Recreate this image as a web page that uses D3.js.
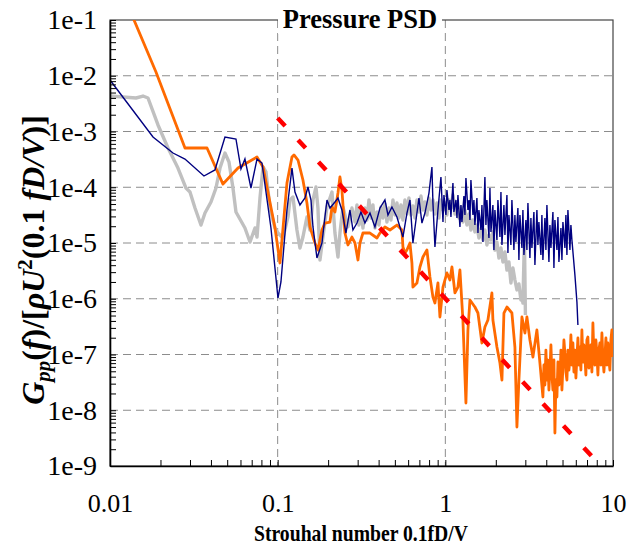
<!DOCTYPE html>
<html>
<head>
<meta charset="utf-8">
<script src="https://cdn.jsdelivr.net/npm/d3@7"></script>
<style>
  body { margin: 0; background: #fff; }
  svg text { font-family: "Liberation Serif", "Times New Roman", serif; }
</style>
</head>
<body>
<svg id="chart" width="627" height="546"></svg>
<script>
// axis ticks
const xTicks = [0.01, 0.1, 1, 10];
const xTickLabels = ['0.01', '0.1', '1', '10'];
const yTicks = [1e-1, 1e-2, 1e-3, 1e-4, 1e-5, 1e-6, 1e-7, 1e-8, 1e-9];
const yTickLabels = ['1e-1', '1e-2', '1e-3', '1e-4', '1e-5', '1e-6', '1e-7', '1e-8', '1e-9'];
const xGrid = [0.1, 1];
const yGrid = [1e-2, 1e-3, 1e-4, 1e-5, 1e-6, 1e-7, 1e-8];

// series [Strouhal number, PSD]
const navy = [
  [0.01, 8.39e-3], [0.01805, 7.96e-4], [0.02375, 4.11e-4], [0.028, 3.21e-4], [0.03634, 1.59e-4],
  [0.04227, 2.04e-4], [0.0485, 7.96e-4], [0.0564, 7.34e-4], [0.0604, 2.13e-4], [0.0638, 3.21e-4],
  [0.0693, 9.69e-5], [0.0753, 3.21e-4], [0.0806, 2.72e-4], [0.0912, 1.86e-5], [0.1004, 1.03e-6],
  [0.1046, 2.0e-6], [0.1136, 3.91e-5], [0.1217, 2.21e-4], [0.1268, 8.22e-5], [0.1358, 4.8e-5],
  [0.1455, 6.41e-5], [0.1516, 1.01e-4], [0.158, 5.91e-5], [0.1624, 1.94e-5], [0.1715, 5.38e-6],
  [0.1837, 1.0e-5], [0.1914, 2.93e-5], [0.1968, 5.91e-5], [0.2051, 4.24e-5], [0.2196, 5.44e-5],
  [0.2289, 6.41e-5], [0.2417, 3.91e-5], [0.2554, 1.51e-5], [0.2698, 3.91e-5], [0.2812, 1.71e-5],
  [0.2971, 2.28e-5], [0.3139, 3.6e-5], [0.3316, 2.28e-5], [0.3552, 3.45e-5], [0.3804, 1.94e-5],
  [0.4074, 4.24e-5], [0.4363, 5.91e-5], [0.4547, 3.18e-5], [0.4803, 4.42e-5], [0.5145, 2.93e-5],
  [0.5586, 1.28e-5], [0.5902, 3.45e-5], [0.615, 5.91e-5], [0.6408, 1.0e-5], [0.677, 3.45e-5],
  [0.6961, 6.41e-5], [0.7253, 2.28e-5], [0.7556, 3.45e-5], [0.7985, 7.88e-5], [0.8319, 2.31e-4],
  [0.8435, 5.22e-5], [0.867, 8.48e-6], [0.9035, 3.91e-5], [0.9414, 1.53e-4],
  [0.968, 2.38e-5], [0.981, 7.26e-5], [1.008, 3.18e-5], [1.022, 8.93e-5], [1.051, 3.91e-5],
  [1.065, 5.91e-5], [1.08, 2.93e-5], [1.11, 1.19e-4], [1.125, 3.6e-5], [1.157, 5.91e-5],
  [1.173, 2.81e-5], [1.189, 7.26e-5], [1.222, 1.94e-5], [1.239, 4.8e-5], [1.256, 2.38e-5],
  [1.291, 6.97e-5], [1.309, 3.18e-5], [1.327, 1.47e-4], [1.364, 3.91e-5], [1.383, 5.91e-5],
  [1.402, 2.59e-5], [1.421, 1.35e-4], [1.461, 3.18e-5], [1.481, 5.91e-5], [1.501, 2.1e-5],
  [1.543, 6.41e-5], [1.565, 1.51e-5], [1.586, 3.91e-5], [1.631, 1.71e-5], [1.653, 4.8e-5],
  [1.676, 1.04e-5], [1.722, 1.53e-4], [1.746, 2.1e-5], [1.77, 5.91e-5], [1.82, 1.23e-5],
  [1.845, 9.69e-5], [1.871, 1.58e-5], [1.922, 4.8e-5], [1.949, 7.49e-6], [1.976, 3.91e-5],
  [2.031, 1.13e-5], [2.059, 5.91e-5], [2.117, 1.28e-5], [2.146, 8.22e-5], [2.176, 9.21e-6],
  [2.236, 4.8e-5], [2.267, 1.39e-5], [2.33, 7.26e-5], [2.362, 6.62e-6], [2.395, 3.18e-5],
  [2.461, 9.21e-6], [2.495, 5.91e-5], [2.565, 7.49e-6], [2.6, 3.18e-5], [2.636, 1.04e-5],
  [2.709, 4.24e-5], [2.747, 4.96e-6], [2.785, 3.18e-5], [2.863, 8.13e-6], [2.902, 3.91e-5],
  [2.943, 6.09e-6], [3.024, 2.59e-5], [3.066, 7.49e-6], [3.109, 5.22e-5], [3.195, 5.38e-6],
  [3.239, 2.81e-5], [3.284, 8.13e-6], [3.375, 3.6e-5], [3.422, 4.03e-6], [3.517, 3.91e-5],
  [3.566, 9.21e-6], [3.615, 2.38e-5], [3.716, 6.09e-6], [3.767, 3.18e-5], [3.819, 4.96e-6],
  [3.926, 2.81e-5], [3.98, 7.49e-6], [4.035, 4.8e-5], [4.148, 4.56e-6], [4.205, 2.1e-5],
  [4.264, 8.13e-6], [4.382, 3.6e-5], [4.443, 3.56e-6], [4.504, 2.59e-5], [4.63, 7.49e-6],
  [4.694, 2.93e-5], [4.759, 4.56e-6], [4.891, 1.86e-5], [4.959, 4.96e-6], [5.027, 2.38e-5],
  [5.167, 8.13e-6], [5.238, 3.18e-5], [5.311, 6.09e-6], [5.384, 3.91e-5], [5.534, 7.49e-6],
  [5.61, 2.1e-5], [5.688, 1.13e-5], [5.927, 2.67e-6], [6.093, 8.74e-7], [6.177, 3.38e-7]
];

const grey = [
  [0.01, 4.33e-3], [0.01429, 3.99e-3], [0.01573, 4.33e-3], [0.01685, 3.99e-3], [0.01933, 1.31e-3],
  [0.02218, 5.06e-4], [0.02543, 2.21e-4], [0.02839, 9.69e-5], [0.02999, 8.22e-5], [0.03213, 4.24e-5],
  [0.03488, 2.1e-5], [0.03685, 3.45e-5], [0.04002, 5.44e-5], [0.04287, 9.69e-5], [0.04529, 2.21e-4],
  [0.0485, 4.11e-4], [0.05124, 2.84e-4], [0.05413, 9.69e-5], [0.0564, 3.6e-5], [0.0638, 1.86e-5],
  [0.06838, 1.04e-5], [0.07322, 1.86e-5], [0.0753, 1.28e-5], [0.07843, 6.41e-5], [0.0818, 2.31e-4],
  [0.08516, 1.88e-4], [0.08995, 4.24e-5], [0.0964, 1.86e-5], [0.1004, 1.51e-5], [0.1075, 1.23e-5],
  [0.1152, 2.93e-5], [0.1184, 5.91e-5], [0.1234, 6.69e-5], [0.1303, 1.71e-5], [0.1358, 8.13e-6],
  [0.1415, 1.28e-5], [0.1495, 2.93e-5], [0.1558, 1.71e-5], [0.1624, 5.91e-5], [0.1692, 1.01e-4],
  [0.1739, 4.24e-5], [0.1787, 4.96e-6], [0.1862, 1.28e-5], [0.1968, 4.42e-5], [0.2108, 8.22e-5],
  [0.2196, 1.51e-5], [0.2289, 5.61e-6], [0.2352, 1.51e-5], [0.2451, 4.42e-5], [0.2625, 1.94e-5],
  [0.2773, 4.24e-5], [0.2891, 2.38e-5], [0.2971, 4.8e-5], [0.3054, 2.1e-5], [0.3139, 3.91e-5],
  [0.3226, 1.86e-5], [0.3316, 4.24e-5], [0.3408, 2.59e-5], [0.3503, 5.91e-5], [0.36, 2.81e-5],
  [0.37, 4.8e-5], [0.3804, 1.86e-5], [0.391, 3.6e-5], [0.4018, 2.1e-5], [0.413, 4.42e-5],
  [0.4245, 2.81e-5], [0.4363, 5.01e-5], [0.4485, 2.38e-5], [0.461, 4.24e-5], [0.4738, 2.59e-5],
  [0.487, 5.91e-5], [0.5006, 3.18e-5], [0.5145, 5.22e-5], [0.5288, 2.81e-5], [0.5435, 4.8e-5],
  [0.5586, 2.59e-5], [0.5743, 5.91e-5], [0.5902, 3.31e-5], [0.6066, 6.41e-5], [0.6235, 3.18e-5],
  [0.6408, 4.61e-5], [0.6587, 2.81e-5], [0.677, 5.91e-5], [0.6961, 3.6e-5], [0.7153, 6.97e-5],
  [0.7353, 3.91e-5], [0.7556, 5.44e-5], [0.7767, 3.18e-5], [0.7985, 6.41e-5], [0.8207, 3.91e-5],
  [0.8435, 5.91e-5], [0.867, 3.31e-5], [0.8911, 5.22e-5], [0.9158, 2.81e-5], [0.9414, 5.91e-5],
  [0.968, 3.91e-5], [0.9945, 5.22e-5], [1.022, 3.18e-5], [1.051, 5.91e-5], [1.08, 4.24e-5],
  [1.11, 7.26e-5], [1.141, 3.31e-5], [1.173, 4.8e-5], [1.205, 2.81e-5], [1.239, 4.42e-5],
  [1.273, 2.38e-5], [1.309, 3.91e-5], [1.345, 2.1e-5], [1.383, 3.31e-5], [1.421, 1.71e-5],
  [1.461, 2.59e-5], [1.501, 1.58e-5], [1.543, 2.1e-5], [1.586, 1.23e-5], [1.631, 1.86e-5],
  [1.676, 1.13e-5], [1.722, 1.71e-5], [1.77, 9.21e-6], [1.82, 1.39e-5], [1.871, 1.13e-5],
  [1.922, 1.58e-5], [1.976, 7.49e-6], [2.031, 1.04e-5], [2.088, 5.38e-6], [2.146, 8.13e-6],
  [2.206, 4.56e-6], [2.267, 6.9e-6], [2.33, 3.28e-6], [2.395, 4.56e-6], [2.461, 1.92e-6],
  [2.53, 3.56e-6], [2.6, 2.17e-6], [2.673, 1.44e-6], [2.747, 1.84e-6], [2.824, 9.5e-7],
  [2.863, 1.17e-6], [2.902, 8.39e-7], [2.963, 1.23e-5], [3.004, 5.11e-7]
];

const orange = [
  [0.01163, 0.356], [0.0188, 1.17e-2], [0.028, 5.06e-4], [0.0379, 5.06e-4], [0.04718, 1.14e-4],
  [0.058, 2.21e-4], [0.0753, 3.49e-4], [0.0818, 2.31e-4], [0.0964, 1.86e-5], [0.1032, 4.38e-6],
  [0.1136, 1.19e-4], [0.1217, 3.49e-4], [0.1251, 3.79e-4], [0.1322, 3.08e-4], [0.1415, 1.35e-4],
  [0.1495, 5.22e-5], [0.1558, 1.94e-5], [0.1669, 1.0e-5], [0.1739, 7.49e-6], [0.1837, 1.71e-5],
  [0.1914, 2.28e-5], [0.2051, 2.38e-5], [0.2108, 4.42e-5], [0.2196, 3.6e-5], [0.2289, 7.88e-5],
  [0.2352, 1.53e-4], [0.2417, 8.93e-5], [0.2519, 1.51e-5], [0.2625, 9.21e-6], [0.2773, 1.28e-5],
  [0.2891, 1.0e-5], [0.3012, 4.96e-6], [0.3096, 1.0e-5], [0.3226, 1.51e-5], [0.3552, 1.51e-5],
  [0.391, 1.23e-5], [0.4074, 1.51e-5], [0.4363, 1.94e-5], [0.4673, 1.71e-5], [0.5145, 2.1e-5],
  [0.551, 1.71e-5], [0.5586, 8.48e-6], [0.5743, 6.62e-6], [0.5902, 7.49e-6], [0.615, 1.0e-5],
  [0.6321, 4.38e-6], [0.6408, 1.62e-6], [0.677, 1.92e-6], [0.7057, 3.71e-6], [0.7353, 5.61e-6],
  [0.7767, 7.49e-6], [0.8094, 2.46e-6], [0.8435, 1.07e-6], [0.867, 8.39e-7], [0.9035, 1.92e-6],
  [0.9286, 4.71e-7], [0.968, 1.62e-6], [1.022, 2.9e-6], [1.065, 2.17e-6], [1.095, 3.71e-6],
  [1.141, 1.27e-6], [1.189, 1.62e-6], [1.222, 3.28e-6], [1.273, 4.16e-7], [1.327, 1.35e-8],
  [1.364, 2.75e-7], [1.402, 9.5e-7], [1.501, 7.11e-7], [1.565, 5.55e-7], [1.653, 1.61e-7],
  [1.722, 3.11e-7], [1.795, 4.16e-7], [1.896, 1.27e-6], [1.922, 4.16e-7], [2.031, 1.36e-7],
  [2.117, 7.04e-8], [2.176, 3.49e-8], [2.236, 5.55e-7], [2.33, 7.11e-7], [2.495, 5.55e-7],
  [2.6, 1.36e-7], [2.673, 5.01e-9], [2.747, 3.49e-8], [2.863, 4.71e-7], [2.984, 2.43e-7],
  [3.066, 4.71e-7], [3.195, 1.82e-7], [3.33, 9.02e-8], [3.517, 2.75e-7], [3.665, 7.04e-8],
  [3.819, 1.73e-8], [3.873, 6.48e-8], [3.926, 2.84e-8], [3.98, 1.2e-7], [4.035, 3.49e-8],
  [4.091, 7.96e-8], [4.148, 2.31e-8], [4.205, 5.27e-8], [4.264, 1.48e-7], [4.322, 4.29e-8],
  [4.382, 2.31e-8], [4.443, 7.96e-8], [4.504, 3.91e-9], [4.567, 3.49e-8], [4.63, 1.73e-8],
  [4.694, 7.33e-8], [4.759, 2.84e-8], [4.825, 3.49e-8], [4.891, 1.2e-7], [4.959, 2.31e-8],
  [5.027, 5.97e-8], [5.097, 1.82e-7], [5.167, 1.06e-7], [5.238, 4.85e-8], [5.311, 3.49e-8],
  [5.384, 1.2e-7], [5.458, 5.27e-8], [5.534, 7.96e-8], [5.61, 2.24e-7], [5.688, 6.48e-8],
  [5.767, 1.61e-7], [5.846, 4.85e-8], [5.927, 1.2e-7], [6.008, 3.79e-8], [6.093, 9.02e-8],
  [6.177, 1.98e-7], [6.261, 6.48e-8], [6.347, 1.36e-7], [6.435, 5.27e-8], [6.524, 2.75e-7],
  [6.613, 7.33e-8], [6.705, 1.48e-7], [6.798, 9.02e-8], [6.891, 4.29e-8], [6.987, 1.82e-7],
  [7.084, 2.06e-7], [7.182, 5.73e-8], [7.282, 7.96e-8], [7.381, 1.48e-7], [7.484, 4.85e-8],
  [7.589, 3.67e-7], [7.692, 9.79e-8], [7.799, 6.48e-8], [7.907, 1.82e-7], [8.017, 1.06e-7],
  [8.128, 4.29e-8], [8.239, 1.2e-7], [8.354, 1.61e-7], [8.47, 6.48e-8], [8.587, 2.43e-7],
  [8.706, 8.65e-8], [8.827, 4.85e-8], [8.948, 9.02e-8], [9.073, 1.98e-7], [9.197, 6.48e-8],
  [9.324, 1.61e-7], [9.454, 7.96e-8], [9.583, 5.27e-8], [9.716, 1.82e-7], [9.849, 2.75e-7],
  [10, 9.02e-8]
];

// slope reference line (red dashes)
const slopeLine = [[0.1, 1.75e-3], [8.0, 1.2e-9]];

const width = 627, height = 546;
const margin = { top: 20, right: 14, bottom: 80, left: 110 };
const serif = 'Liberation Serif';

const svg = d3.select('#chart');

const x = d3.scaleLog().domain([0.01, 10]).range([margin.left, width - margin.right]);
const y = d3.scaleLog().domain([1e-9, 1e-1]).range([height - margin.bottom, margin.top]);

svg.append('defs').append('clipPath').attr('id', 'plotClip')
  .append('rect')
  .attr('x', margin.left).attr('y', margin.top)
  .attr('width', width - margin.left - margin.right)
  .attr('height', height - margin.top - margin.bottom);

// grid
svg.append('g').selectAll('line').data(yGrid).join('line')
  .attr('x1', x(0.01)).attr('x2', x(10))
  .attr('y1', d => y(d)).attr('y2', d => y(d))
  .attr('stroke', '#8c8c8c').attr('stroke-dasharray', '8,5');
svg.append('g').selectAll('line').data(xGrid).join('line')
  .attr('x1', d => x(d)).attr('x2', d => x(d))
  .attr('y1', y(1e-1)).attr('y2', y(1e-9))
  .attr('stroke', '#8c8c8c').attr('stroke-dasharray', '8,5');

// frame
svg.append('rect')
  .attr('x', margin.left).attr('y', margin.top)
  .attr('width', width - margin.left - margin.right)
  .attr('height', height - margin.top - margin.bottom)
  .attr('fill', 'none').attr('stroke', '#444').attr('stroke-width', 1.2);

// series
const line = d3.line().x(d => x(d[0])).y(d => y(d[1]));
const plot = svg.append('g').attr('clip-path', 'url(#plotClip)');

plot.append('path').datum(grey).attr('d', line)
  .attr('fill', 'none').attr('stroke', '#c0c0c0').attr('stroke-width', 3.4).attr('stroke-linejoin', 'round');
plot.append('path').datum(orange).attr('d', line)
  .attr('fill', 'none').attr('stroke', '#ff6a00').attr('stroke-width', 2.8).attr('stroke-linejoin', 'round');
plot.append('path').datum(navy).attr('d', line)
  .attr('fill', 'none').attr('stroke', '#000080').attr('stroke-width', 1.4);
plot.append('path').datum(slopeLine).attr('d', line)
  .attr('fill', 'none').attr('stroke', '#ff0000').attr('stroke-width', 4.5)
  .attr('stroke-dasharray', '11,19');

// axes: minor ticks pointing into the plot
const xMinor = svg.append('g').attr('transform', `translate(0,${y(1e-9)})`)
  .call(d3.axisBottom(x).tickValues(x.ticks()).tickSizeInner(-6).tickSizeOuter(0).tickFormat(''));
const yMinor = svg.append('g').attr('transform', `translate(${x(0.01)},0)`)
  .call(d3.axisLeft(y).tickValues(y.ticks()).tickSizeInner(-6).tickSizeOuter(0).tickFormat(''));
[xMinor, yMinor].forEach(g => {
  g.select('.domain').attr('stroke', '#000').attr('stroke-width', 1.6);
  g.selectAll('.tick line').attr('stroke', '#000');
});

const xLab = svg.append('g').attr('transform', `translate(0,${y(1e-9)})`)
  .call(d3.axisBottom(x).tickValues(xTicks).tickFormat((d, i) => xTickLabels[i]).tickSize(0).tickPadding(28))
  .attr('font-size', 26);
const yLab = svg.append('g').attr('transform', `translate(${x(0.01)},0)`)
  .call(d3.axisLeft(y).tickValues(yTicks).tickFormat((d, i) => yTickLabels[i]).tickSize(0).tickPadding(13))
  .attr('font-size', 28);
[xLab, yLab].forEach(g => {
  g.select('.domain').remove();
  g.attr('font-family', serif);
  g.selectAll('text').attr('fill', '#000');
});

// title over the top border
svg.append('rect').attr('x', 278).attr('y', 4).attr('width', 164).attr('height', 30).attr('fill', '#fff');
svg.append('text').attr('x', 360).attr('y', 28)
  .attr('font-family', serif)
  .attr('text-anchor', 'middle').attr('font-size', 26.5).attr('font-weight', 'bold')
  .text('Pressure PSD');

// x title
svg.append('text').attr('x', 361).attr('y', 541)
  .attr('font-family', serif)
  .attr('text-anchor', 'middle').attr('font-size', 23).attr('font-weight', 'bold')
  .attr('textLength', 214).attr('lengthAdjust', 'spacingAndGlyphs')
  .text('Strouhal number 0.1fD/V');

// y title
const yt = svg.append('text').attr('transform', 'translate(44,260) rotate(-90)')
  .attr('font-family', serif)
  .attr('text-anchor', 'middle').attr('font-size', 32).attr('font-weight', 'bold');
yt.append('tspan').attr('font-style', 'italic').text('G');
yt.append('tspan').attr('font-style', 'italic').attr('font-size', 21).attr('dy', 6).text('pp');
yt.append('tspan').attr('dy', -6).text('(');
yt.append('tspan').attr('font-style', 'italic').text('f');
yt.append('tspan').text(')/[');
yt.append('tspan').attr('font-style', 'italic').text('ρU');
yt.append('tspan').attr('font-size', 21).attr('dy', -12).text('2');
yt.append('tspan').attr('dy', 12).text('(0.1 ');
yt.append('tspan').attr('font-style', 'italic').text('fD/V');
yt.append('tspan').text(')]');
</script>
</body>
</html>
